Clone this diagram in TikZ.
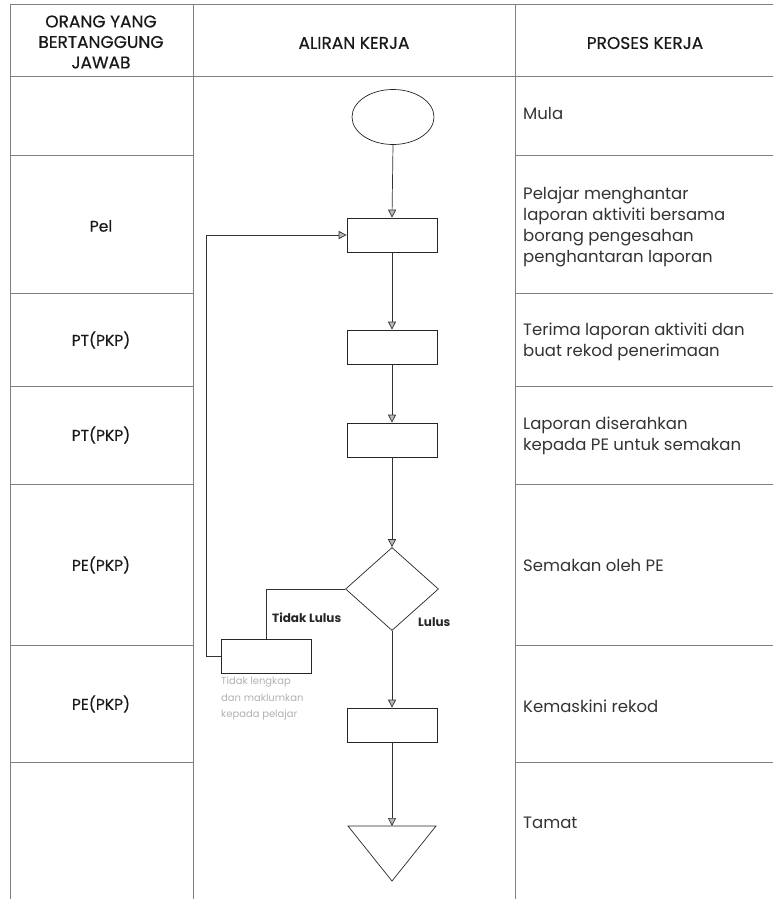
\documentclass[tikz,border=0pt]{standalone}
\usepackage{fontspec}
\setmainfont{Poppins}
\newfontfamily\semib[FakeBold=0.5]{Poppins}
\usetikzlibrary{arrows.meta,shapes.geometric}

\begin{document}
\begin{tikzpicture}[x=1pt,y=-1pt,
  grid/.style={black!50, line width=0.6pt},
  flow/.style={draw=black!85, line width=0.7pt},
  box/.style={flow, rectangle, minimum width=90pt, minimum height=34pt, inner sep=0pt},
  conn/.style={draw=black!80, line width=0.7pt},
  arr/.style={conn, -{Triangle[length=8pt, width=8pt, fill=gray!55]}},
  head/.style={font=\semib\fontsize{17}{20.5}\selectfont, align=center, text=black!90},
  who/.style={font=\semib\fontsize{15.5}{18}\selectfont, text=black!90},
  work/.style={font=\fontsize{16.5}{21}\selectfont, anchor=west, align=left, text=black!80, inner sep=0pt},
  lbl/.style={font=\bfseries\fontsize{12}{14}\selectfont, anchor=west, inner sep=0pt, text=black!85},
  note/.style={font=\fontsize{10}{16.5}\selectfont, anchor=north west, align=left, inner sep=0pt, text=gray!60},
]
\useasboundingbox (0,0) rectangle (773,899);

% table frame
\draw[grid] (10,4) -- (773,4);
\draw[grid] (10,76) -- (773,76);
\draw[grid] (10,4) -- (10,899);
\draw[grid] (193,4) -- (193,899);
\draw[grid] (515,4) -- (515,899);
\foreach \r in {155,293,386,484,645,762}{
  \draw[grid] (10,\r) -- (193,\r);
  \draw[grid] (515,\r) -- (773,\r);
}

% column headings
\node[head] (h1) at (101,42) {ORANG YANG\\BERTANGGUNG\\JAWAB};
\node[head] (h2) at (354,43) {ALIRAN KERJA};
\node[head] (h3) at (645,43) {PROSES KERJA};

% responsible parties
\node[who] (w1) at (101,226) {Pel};
\node[who] (w2) at (101,340) {PT(PKP)};
\node[who] (w3) at (101,435) {PT(PKP)};
\node[who] (w4) at (101,565) {PE(PKP)};
\node[who] (w5) at (101,704) {PE(PKP)};

% work process descriptions
\node[work] (p1) at (523,113) {Mula};
\node[work] (p2) at (523,227) {Pelajar menghantar\\laporan aktiviti bersama\\borang pengesahan\\penghantaran laporan};
\node[work] (p3) at (523,342) {Terima laporan aktiviti dan\\buat rekod penerimaan};
\node[work] (p4) at (523,436) {Laporan diserahkan\\kepada PE untuk semakan};
\node[work] (p5) at (523,565) {Semakan oleh PE};
\node[work] (p6) at (523,706) {Kemaskini rekod};
\node[work] (p7) at (523,823) {Tamat};

% flow shapes
\node[ellipse, flow, minimum width=82pt, minimum height=55pt, inner sep=0pt] (start) at (393,117) {};
\node[box] (b1) at (392,235) {};
\node[box] (b2) at (392,347) {};
\node[box] (b3) at (392,440) {};
\node[diamond, flow, minimum width=93pt, minimum height=83pt, inner sep=0pt] (dec) at (392,589) {};
\node[box] (rej) at (266,656) {};
\node[box] (b4) at (392,725) {};
\coordinate (endtop) at (392,826);
\draw[flow, line join=miter] (348,826) -- (436,826) -- (392,881) -- cycle;

% connectors
\coordinate (loop) at (206,656);
\draw[arr] (start.south) -- (b1.north);
\draw[arr] (b1.south) -- (b2.north);
\draw[arr] (b2.south) -- (b3.north);
\draw[arr] (b3.south) -- (dec.north);
\draw[conn] (dec.west) -| (rej.north);
\draw[arr] (rej.west) -- (loop) |- (b1.west);
\draw[arr] (dec.south) -- (b4.north);
\draw[arr] (b4.south) -- (endtop);

% decision labels
\node[lbl] (no) at (272,618) {Tidak Lulus};
\node[lbl] (yes) at (418,622) {Lulus};
\node[note] (rejnote) at (221,677) {Tidak lengkap\\dan maklumkan\\kepada pelajar};
\end{tikzpicture}
\end{document}
